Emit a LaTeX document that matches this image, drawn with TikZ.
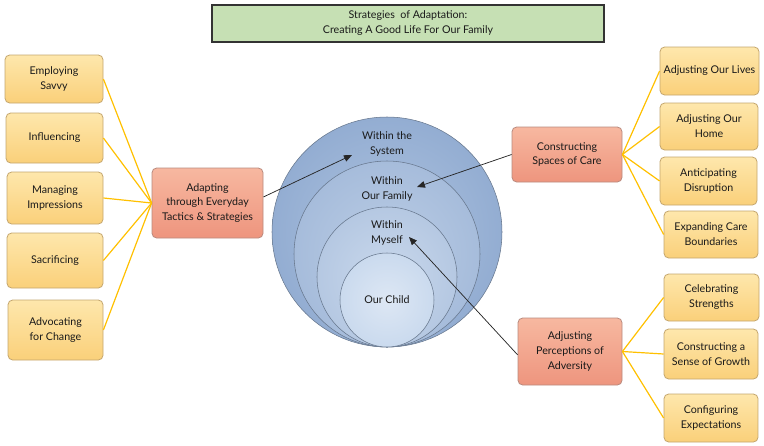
\documentclass[tikz,border=0pt]{standalone}
\usepackage{fontspec}
\setmainfont{Lato}
\usetikzlibrary{arrows.meta}
\definecolor{leafT}{HTML}{FEE7AC}
\definecolor{leafB}{HTML}{FAD07A}
\definecolor{leafD}{HTML}{C4A66E}
\definecolor{hubT}{HTML}{F7B8A0}
\definecolor{hubB}{HTML}{EE957E}
\definecolor{hubD}{HTML}{B98A7E}
\definecolor{titleF}{HTML}{C6E0B4}
\definecolor{linkY}{HTML}{FFC000}
\definecolor{c1o}{HTML}{93ADD2}
\definecolor{c1i}{HTML}{AEC3DF}
\definecolor{c2o}{HTML}{A6BCDB}
\definecolor{c2i}{HTML}{BBCDE5}
\definecolor{c3o}{HTML}{B5C8E2}
\definecolor{c3i}{HTML}{C9D8EC}
\definecolor{c4o}{HTML}{CADAEE}
\definecolor{c4i}{HTML}{DDE7F4}
\definecolor{ringD}{HTML}{66768C}
\definecolor{txt}{HTML}{1A1A1A}
\tikzset{
  wh/.style 2 args={minimum width=#1*0.75pt, minimum height=#2*0.75pt},
  base/.style={rounded corners=3.5pt, align=center, inner sep=1pt,
    font=\fontsize{8}{11.2}\selectfont, text=txt, line width=0.6pt},
  leaf/.style={base, draw=leafD, top color=leafT, bottom color=leafB},
  hub/.style={base, draw=hubD, top color=hubT, bottom color=hubB},
  link/.style={draw=linkY, line width=0.9pt},
  arr/.style={draw=black!85, line width=0.55pt, -{Triangle[length=6pt,width=5pt]}},
  ring/.style={draw=ringD, line width=0.4pt},
  ctext/.style={align=center, font=\fontsize{8}{11.2}\selectfont, text=txt}
}
\begin{document}
\begin{tikzpicture}[x=0.75pt,y=-0.75pt]
\useasboundingbox (0,0) rectangle (764,446);
% title
\node[draw=black!80, line width=1.1pt, fill=titleF, wh={392}{37}, align=center,
  font=\fontsize{8}{11.2}\selectfont, text=txt] (title) at (408,23.5)
  {Strategies\ \ of Adaptation:\\Creating A Good Life For Our Family};
% circles
\path[ring, inner color=c1i, outer color=c1o] (387,232) circle[radius=86.25pt];
\path[ring, inner color=c2i, outer color=c2o] (387,254) circle[radius=69.75pt];
\path[ring, inner color=c3i, outer color=c3o] (387,277) circle[radius=52.5pt];
\path[ring, inner color=c4i, outer color=c4o] (387,300) circle[radius=35.25pt];
\node[ctext] (sys) at (387,144) {Within the\\System};
\node[ctext] (fam) at (387,189) {Within\\Our Family};
\node[ctext] (self) at (387,233) {Within\\Myself};
\node[ctext] (child) at (387,300) {Our Child};
% left leaves
\node[leaf, wh={98}{48}] (l1) at (54,79) {Employing\\Savvy};
\node[leaf, wh={97}{50}] (l2) at (54.5,138) {Influencing};
\node[leaf, wh={96}{52}] (l3) at (55,198) {Managing\\Impressions};
\node[leaf, wh={96}{55}] (l4) at (55,260.5) {Sacrificing};
\node[leaf, wh={95}{60}] (l5) at (55.5,330) {Advocating\\for Change};
% hubs
\node[hub, wh={111}{70}] (A) at (207.5,203) {Adapting\\through Everyday\\Tactics \& Strategies};
\node[hub, wh={110}{55}] (B) at (567,154.5) {Constructing\\Spaces of Care};
\node[hub, wh={104}{67}] (C) at (570,351.5) {Adjusting\\Perceptions of\\Adversity};
% right leaves
\node[leaf, wh={99}{48}] (r1) at (709.5,71) {Adjusting Our Lives};
\node[leaf, wh={98}{47}] (r2) at (709,126.5) {Adjusting Our\\Home};
\node[leaf, wh={97}{48}] (r3) at (708.5,181) {Anticipating\\Disruption};
\node[leaf, wh={94}{47}] (r4) at (711,234.5) {Expanding Care\\Boundaries};
\node[leaf, wh={95}{47}] (r5) at (711.5,297.5) {Celebrating\\Strengths};
\node[leaf, wh={94}{50}] (r6) at (711,354) {Constructing a\\Sense of Growth};
\node[leaf, wh={94}{48}] (r7) at (711,418) {Configuring\\Expectations};
% links
\foreach \n in {l1,l2,l3,l4,l5} \draw[link] (A.west) -- (\n.east);
\foreach \n in {r1,r2,r3,r4} \draw[link] (B.east) -- (\n.west);
\foreach \n in {r5,r6,r7} \draw[link] (C.east) -- (\n.west);
% arrows
\coordinate (tA) at (352,155);
\coordinate (tB) at (417,187);
\coordinate (tC) at (409,237);
\draw[arr] ([yshift=4.5pt]A.east) -- (tA);
\draw[arr] (B.west) -- (tB);
\draw[arr] ([yshift=-2.5pt]C.west) -- (tC);
\end{tikzpicture}
\end{document}
